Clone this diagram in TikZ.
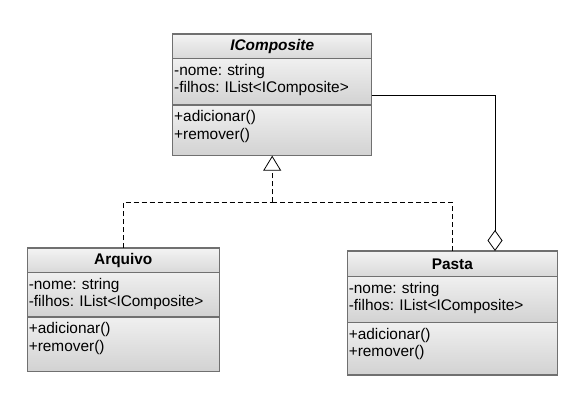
\documentclass[tikz,border=0pt]{standalone}
\usepackage{fontspec}
\setmainfont{Liberation Sans}
\usetikzlibrary{positioning, arrows.meta}
\definecolor{box-border}{HTML}{707070}
\definecolor{box-light}{HTML}{F3F3F3}
\definecolor{box-dark}{HTML}{D2D2D2}
\frenchspacing
\begin{document}
\begin{tikzpicture}[x=1pt, y=-1pt]
        \tikzstyle{class-title}=[draw=box-border, line width=1.5pt, top color=box-light, bottom color=box-dark!80!box-light, outer sep=0pt, inner sep=0pt, font=\fontsize{15.4}{17.5}\selectfont\bfseries]
        \tikzstyle{class-part}=[draw=box-border, line width=1.5pt, top color=box-light!90!box-dark, bottom color=box-dark, outer sep=0pt, inner xsep=1.5pt, inner ysep=2pt, align=left, text height=14.5pt, font=\fontsize{15.4}{17.5}\selectfont]
        \tikzstyle{realization}=[line width=0.8pt, dash pattern=on 5pt off 3pt]
        \tikzstyle{aggregation}=[line width=0.8pt, -{Diamond[open, width=15pt, length=21pt]}]
        \useasboundingbox (0, 0) rectangle (583, 400);

        % interface
        \node[class-title, anchor=north west, minimum width=199pt, minimum height=24.7pt] (icomposite) at (172.7, 34) {\textit{IComposite}};
        \node[class-part, below=0pt of icomposite, text width=196pt, text depth=27.8pt] (icomposite-attr) {-nome: string\\-filhos: IList<IComposite>};
        \node[class-part, below=0pt of icomposite-attr, text width=196pt, text depth=32.2pt] (icomposite-ops) {+adicionar()\\+remover()};

        % leaf
        \node[class-title, anchor=north west, minimum width=192pt, minimum height=24.5pt] (arquivo) at (27.3, 248) {Arquivo};
        \node[class-part, below=0pt of arquivo, text width=189pt, text depth=26.1pt] (arquivo-attr) {-nome: string\\-filhos: IList<IComposite>};
        \node[class-part, below=0pt of arquivo-attr, text width=189pt, text depth=35.9pt] (arquivo-ops) {+adicionar()\\+remover()};

        % composite
        \node[class-title, anchor=north west, minimum width=210pt, minimum height=25.7pt] (pasta) at (347.3, 251) {Pasta};
        \node[class-part, below=0pt of pasta, text width=207pt, text depth=27.5pt] (pasta-attr) {-nome: string\\-filhos: IList<IComposite>};
        \node[class-part, below=0pt of pasta-attr, text width=207pt, text depth=33.8pt] (pasta-ops) {+adicionar()\\+remover()};

        \coordinate (bus) at (0, 202.3);
        \coordinate (bus-mid) at (icomposite-ops.south |- bus);
        \coordinate (agg) at (495, 95);

        \draw[realization] (arquivo.north) |- (bus-mid);
        \draw[realization] (pasta.north) |- (bus-mid);
        \draw[realization, -{Triangle[open, width=18pt, length=15pt]}] (bus-mid) -- (icomposite-ops.south);
        \draw[aggregation] (icomposite-attr.east |- agg) -- (agg) -- (agg |- pasta.north);

    \end{tikzpicture}
\end{document}
